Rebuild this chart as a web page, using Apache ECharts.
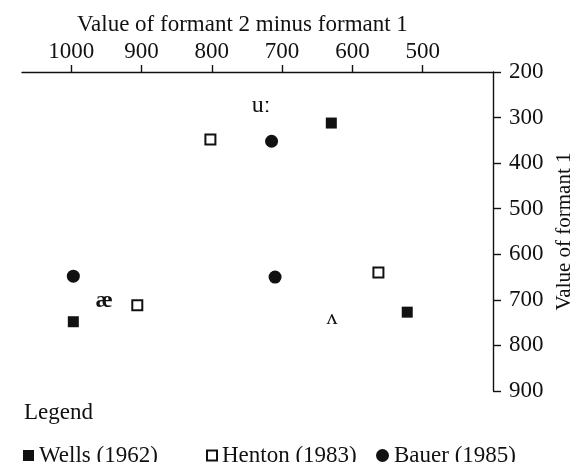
<!DOCTYPE html>
<html>
<head>
<meta charset="utf-8">
<script src="https://cdn.jsdelivr.net/npm/echarts@6/dist/echarts.min.js"></script>
<style>html,body{margin:0;padding:0;background:#fff;}#c{width:581px;height:462px;}</style>
</head>
<body>
<div id="c"></div>
<script>
// ---- data ----
const xTickValues = [500, 600, 700, 800, 900, 1000];
const seriesNames = ['Wells (1962)', 'Henton (1983)', 'Bauer (1985)'];
const wellsX = [630, 997, 522];
const wellsY = [312, 748, 727];
const hentonX = [802, 906, 563];
const hentonY = [348, 712, 640];
const bauerX = [715, 997, 710];
const bauerY = [352, 648, 650];
const vowelLabels = ['uː', 'æ', 'ʌ'];
const vowelX = [730, 953, 629];
const vowelY = [275, 703, 741];

const FONT = 'Liberation Serif';
const INK = '#111';
const FS = 23;
const pairs = (xs, ys) => xs.map((x, i) => [x, ys[i]]);

const legendText = {fontFamily: FONT, fontSize: FS, color: INK};
const mkLegend = (name, icon, left, size) => ({
  data: [{name: name, icon: icon}], left: left, top: 439,
  itemWidth: size, itemHeight: size, itemGap: 0, textStyle: legendText
});

const chart = echarts.init(document.getElementById('c'), null, {renderer: 'canvas'});
chart.setOption({
  animation: false,
  textStyle: {fontFamily: FONT, color: INK},
  title: [
    {text: 'Value of formant 2 minus formant 1', left: 72, top: 8,
     textStyle: {fontFamily: FONT, fontSize: FS, fontWeight: 'normal', color: INK}},
    {text: 'Legend', left: 19, top: 396,
     textStyle: {fontFamily: FONT, fontSize: FS, fontWeight: 'normal', color: INK}}
  ],
  legend: [
    mkLegend(seriesNames[0], 'rect', 18, 11),
    mkLegend(seriesNames[1], 'rect', 201, 10),
    mkLegend(seriesNames[2], 'circle', 371, 13)
  ],
  grid: {left: 22, right: 88, top: 72, bottom: 71, containLabel: false, outerBoundsMode: 'none'},
  xAxis: {
    type: 'value', position: 'top', inverse: true, min: 400, max: 1070,
    axisLine: {lineStyle: {color: INK, width: 1.4}},
    axisTick: {show: true, length: 7, lineStyle: {color: INK, width: 1.4}, customValues: xTickValues},
    axisLabel: {fontFamily: FONT, fontSize: FS, color: INK, margin: 9, customValues: xTickValues,
      formatter: v => String(v)},
    splitLine: {show: false}
  },
  yAxis: {
    type: 'value', position: 'right', inverse: true, min: 200, max: 900, interval: 100,
    name: 'Value of formant 1', nameLocation: 'middle', nameRotate: 90, nameGap: 58,
    nameTextStyle: {fontFamily: FONT, fontSize: 21, color: INK},
    axisLine: {lineStyle: {color: INK, width: 1.4}},
    axisTick: {show: true, length: 8, lineStyle: {color: INK, width: 1.4}},
    axisLabel: {fontFamily: FONT, fontSize: FS, color: INK, margin: 16, formatter: v => String(v)},
    splitLine: {show: false}
  },
  series: [
    {name: seriesNames[0], type: 'scatter', symbol: 'rect', symbolSize: 11,
     itemStyle: {color: INK, opacity: 1}, data: pairs(wellsX, wellsY)},
    {name: seriesNames[1], type: 'scatter', symbol: 'rect', symbolSize: 10,
     itemStyle: {color: '#fff', borderColor: INK, borderWidth: 2, opacity: 1}, data: pairs(hentonX, hentonY)},
    {name: seriesNames[2], type: 'scatter', symbol: 'circle', symbolSize: 13,
     itemStyle: {color: INK, opacity: 1}, data: pairs(bauerX, bauerY)},
    {name: 'vowels', type: 'scatter', symbolSize: 0, silent: true,
     itemStyle: {opacity: 1},
     data: vowelLabels.map((t, i) => ({name: t, value: [vowelX[i], vowelY[i]],
        label: {fontSize: t === 'ʌ' ? 22 : 24, fontWeight: t === 'æ' ? 'bold' : 'normal'}})),
     label: {show: true, position: 'inside', formatter: p => p.name,
       fontFamily: FONT, color: INK}}
  ]
});
</script>
</body>
</html>
